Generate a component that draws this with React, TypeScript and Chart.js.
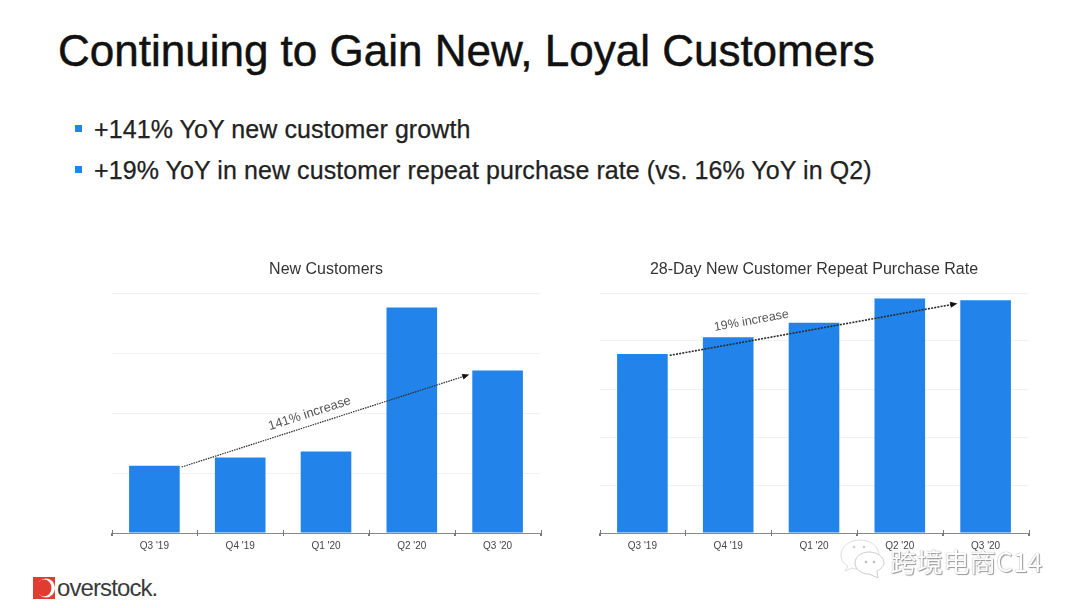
import React, { useEffect, useRef } from "react";
import { Chart, registerables } from "chart.js";

Chart.register(...registerables);

const quarters = ["Q3 '19", "Q4 '19", "Q1 '20", "Q2 '20", "Q3 '20"];
const newCustomers = [1.12, 1.26, 1.36, 3.76, 2.71];
const repeatRate = [3.73, 4.08, 4.38, 4.885, 4.85];
const titleLeft = "New Customers";
const titleRight = "28-Day New Customer Repeat Purchase Rate";
const noteLeft = "141% increase";
const noteRight = "19% increase";
const heading = "Continuing to Gain New, Loyal Customers";
const bullets = [
  "+141% YoY new customer growth",
  "+19% YoY in new customer repeat purchase rate (vs. 16% YoY in Q2)",
];

const FONT = '"Liberation Sans", Arial, sans-serif';

type PanelProps = {
  left: number;
  title: string;
  values: number[];
  yMax: number;
  note: string;
  arrowFrom: number;
  arrowTo: number;
  noteAt: number;
  noteValue: number;
  noteSize: number;
  dotted: number[];
  arrowWidth: number;
};

function Panel({ left, title, values, yMax, note, arrowFrom, arrowTo, noteAt, noteValue, noteSize, dotted, arrowWidth }: PanelProps) {
  const ref = useRef<HTMLCanvasElement>(null);
  useEffect(() => {
    const overlay = {
      id: "overlay",
      afterDraw(chart: any) {
        const { ctx, scales, chartArea } = chart;
        const x = scales.x;
        const y = scales.y;
        ctx.save();
        ctx.strokeStyle = "#777";
        ctx.lineWidth = 1;
        const step = (chartArea.right - chartArea.left) / values.length;
        for (let i = 0; i <= values.length; i++) {
          const px = Math.round(chartArea.left + i * step) + 0.5;
          ctx.beginPath();
          ctx.moveTo(px, chartArea.bottom - 3);
          ctx.lineTo(px, chartArea.bottom + 3);
          ctx.stroke();
        }
        const halfBar = step * 0.295;
        const x0 = x.getPixelForValue(0) + halfBar + 2;
        const y0 = y.getPixelForValue(arrowFrom);
        const x1 = x.getPixelForValue(values.length - 1) - halfBar - 3;
        const y1 = y.getPixelForValue(arrowTo);
        const a = Math.atan2(y1 - y0, x1 - x0);
        ctx.strokeStyle = "#2b2b2b";
        ctx.lineWidth = arrowWidth;
        ctx.setLineDash(dotted);
        ctx.beginPath();
        ctx.moveTo(x0, y0);
        ctx.lineTo(x1 - 5 * Math.cos(a), y1 - 5 * Math.sin(a));
        ctx.stroke();
        ctx.setLineDash([]);
        ctx.fillStyle = "#111";
        ctx.beginPath();
        ctx.moveTo(x1, y1);
        ctx.lineTo(x1 - 7 * Math.cos(a) + 3 * Math.sin(a), y1 - 7 * Math.sin(a) - 3 * Math.cos(a));
        ctx.lineTo(x1 - 7 * Math.cos(a) - 3 * Math.sin(a), y1 - 7 * Math.sin(a) + 3 * Math.cos(a));
        ctx.closePath();
        ctx.fill();
        ctx.translate(x.getPixelForValue(noteAt), y.getPixelForValue(noteValue));
        ctx.rotate(a);
        ctx.fillStyle = "#555";
        ctx.font = `${noteSize}px ${FONT}`;
        ctx.textAlign = "center";
        ctx.textBaseline = "middle";
        ctx.fillText(note, 0, 0);
        ctx.restore();
      },
    };
    const chart = new Chart(ref.current as HTMLCanvasElement, {
      type: "bar",
      data: {
        labels: quarters,
        datasets: [
          {
            data: values,
            backgroundColor: "#2283EA",
            barPercentage: 0.59,
            categoryPercentage: 1,
          },
        ],
      },
      options: {
        animation: false,
        responsive: false,
        layout: { padding: { left: 11.5, right: 11.5, top: 0, bottom: 0 } },
        plugins: {
          legend: { display: false },
          tooltip: { enabled: false },
          title: {
            display: true,
            text: title,
            color: "#333333",
            font: { family: FONT, size: 16, weight: "normal" },
            padding: { top: 5, bottom: 13.8 },
          },
        },
        scales: {
          x: {
            grid: { drawOnChartArea: false, drawTicks: true, tickLength: 3, color: "#777", offset: true },
            border: { color: "#8a8a8a", width: 1 },
            ticks: { color: "#444444", font: { family: FONT, size: 10 }, padding: 4, maxRotation: 0 },
          },
          y: {
            min: 0,
            max: yMax,
            grid: { color: "#f2f2f2", drawTicks: false },
            border: { display: false },
            ticks: { display: false, stepSize: 1 },
          },
        },
      },
      plugins: [overlay],
    } as any);
    return () => chart.destroy();
  }, []);
  return (
    <canvas
      ref={ref}
      width={452}
      height={301}
      style={{ position: "absolute", left, top: 255, width: 452, height: 301 }}
    />
  );
}

export default function App() {
  return (
    <div
      style={{
        position: "fixed",
        inset: 0,
        width: 1080,
        height: 608,
        background: "#fff",
        overflow: "hidden",
        fontFamily: FONT,
        filter: "blur(0.5px)",
      }}
    >
      <div style={{ position: "absolute", left: 58, top: 26, fontSize: 44, color: "#111", whiteSpace: "nowrap", lineHeight: "50px", WebkitTextStroke: "0.5px #111" }}>
        {heading}
      </div>
      {bullets.map((text, i) => (
        <React.Fragment key={text}>
          <div style={{ position: "absolute", left: 75, top: 125 + i * 41, width: 7, height: 7, background: "#2283EA" }} />
          <div style={{ position: "absolute", left: 94, top: 114 + i * 41, fontSize: 25, letterSpacing: 0.08, color: "#222", whiteSpace: "nowrap", lineHeight: "30px", WebkitTextStroke: "0.25px #222" }}>
            {text}
          </div>
        </React.Fragment>
      ))}
      <Panel left={100} title={titleLeft} values={newCustomers} yMax={4} note={noteLeft} arrowFrom={1.1} arrowTo={2.64} noteAt={1.81} noteValue={1.99} noteSize={13} dotted={[1.5, 1]} arrowWidth={1.2} />
      <Panel left={587.5} title={titleRight} values={repeatRate} yMax={5} note={noteRight} arrowFrom={3.7} arrowTo={4.78} noteAt={1.27} noteValue={4.42} noteSize={12.5} dotted={[2, 1.2]} arrowWidth={1.6} />
      <svg style={{ position: "absolute", left: 33, top: 577 }} width={23} height={23} viewBox="0 0 23 23">
        <rect x={0} y={0} width={22} height={22} fill="#E03C31" />
        <ellipse cx={13} cy={11} rx={9} ry={9.5} fill="#fff" />
        <ellipse cx={11} cy={11} rx={7.5} ry={8.5} fill="#E03C31" />
      </svg>
      <div style={{ position: "absolute", left: 57, top: 574, fontSize: 24, letterSpacing: -0.9, color: "#3a3a3a", lineHeight: "28px" }}>
        overstock.
      </div>
      <svg style={{ position: "absolute", left: 840, top: 538 }} width={46} height={40} viewBox="0 0 46 40">
        <path d="M20 2 C9 2 1 9 1 17 C1 22 4 26 8 28 L5 33 L12 30 C14 31 17 31 20 31 C31 31 39 25 39 17 C39 9 31 2 20 2 Z" fill="#fff" stroke="#ddd" />
        <path d="M29 14 C21 14 15 19 15 25 C15 31 21 36 29 36 L38 40 L37 33 C41 31 44 28 44 25 C44 19 37 14 29 14 Z" fill="#fff" stroke="#ccc" />
        <circle cx={26} cy={24} r={1.3} fill="#bbb" />
        <circle cx={34} cy={24} r={1.3} fill="#bbb" />
        <circle cx={14} cy={9} r={1.3} fill="#ccc" />
        <circle cx={24} cy={9} r={1.3} fill="#ccc" />
      </svg>
      <div
        style={{
          position: "absolute",
          left: 890,
          top: 546,
          fontSize: 26.5,
          color: "#fff",
          fontFamily: '"Noto Sans CJK SC", sans-serif',
          lineHeight: "30px",
          whiteSpace: "nowrap",
          textShadow: "0 0 1px #888, 1px 1px 1px #999",
        }}
      >
        跨境电商C14
      </div>
    </div>
  );
}
